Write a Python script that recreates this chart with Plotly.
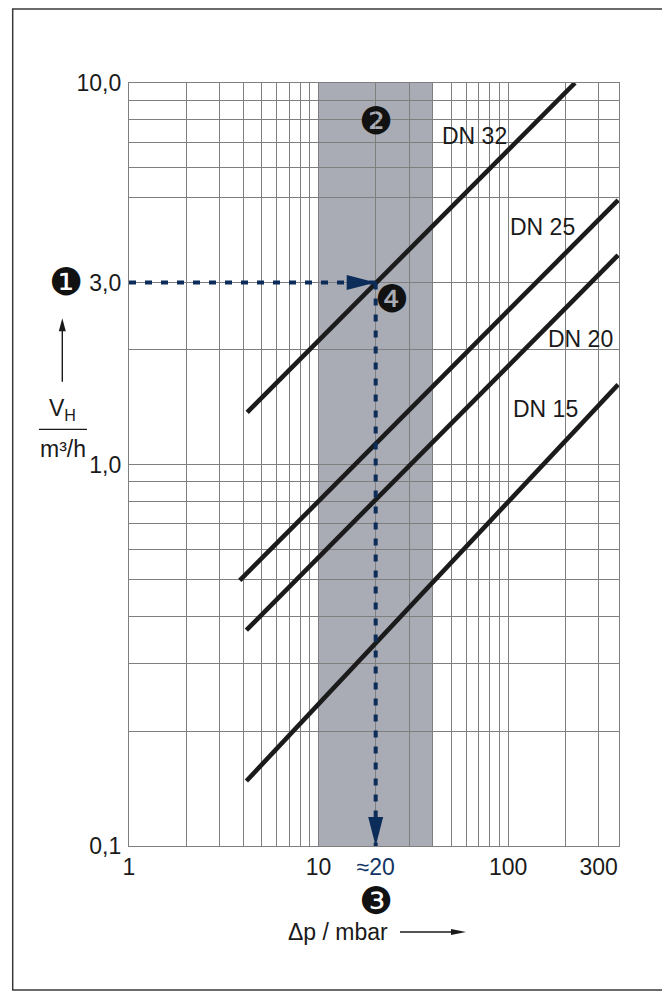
import numpy as np
import plotly.graph_objects as go

# ---------------- data ----------------
x_grid = [1, 2, 3, 4, 5, 6, 7, 8, 9, 10, 20, 30, 40, 50, 60, 70, 80, 90, 100, 200, 300]
x_labels = {1: "1", 10: "10", 20: '<span style="color:#123566">≈20</span>', 100: "100", 300: "300"}
y_grid = [0.1, 0.2, 0.3, 0.4, 0.5, 0.6, 0.7, 0.8, 0.9, 1, 2, 3, 5, 6, 7, 8, 9, 10]
y_labels = {0.1: "0,1", 1: "1,0", 3: "3,0", 10: "10,0"}
x_max = 384

dn_names = ["DN 32", "DN 25", "DN 20", "DN 15"]
dn_dp_start = [4.2, 3.84, 4.16, 4.16]
dn_v_start = [1.37, 0.497, 0.368, 0.148]
dn_dp_end = [225, 380, 380, 380]
dn_v_end = [10.0, 4.93, 3.54, 1.62]
dn_label_dp = [66.8, 152, 241, 158]
dn_label_v = [7.26, 4.20, 2.13, 1.40]

band_dp = [10, 40]
example_dp = 20
example_v = 3.0
x_min, y_min = 1, 0.1

# ---------------- layout helpers ----------------
OFF = 8                      # default page margin of the html body
W, H = 670, 999
L, T = 121, 75
PW, PH = 490, 763
R = W - L - PW
B = H - T - PH
def fx(px): return (px - OFF - L) / PW          # page pixel -> paper x
def fy(py): return (OFF + T + PH - py) / PH     # page pixel -> paper y

NAVY = "#0c2c5a"
GRID = "#7f7f7f"
TXT = "#1a1a1a"
FONT = "Liberation Sans"

fig = go.Figure()

for i in range(len(dn_names)):
    fig.add_trace(go.Scatter(
        x=[dn_dp_start[i], dn_dp_end[i]], y=[dn_v_start[i], dn_v_end[i]],
        mode="lines", line=dict(color="#1b1b1b", width=4.6),
        showlegend=False, hoverinfo="skip"))

# reading lines
fig.add_trace(go.Scatter(x=[x_min, example_dp], y=[example_v, example_v], mode="lines",
                         line=dict(color=NAVY, width=4, dash="7px,9px"),
                         showlegend=False, hoverinfo="skip"))
fig.add_trace(go.Scatter(x=[example_dp, example_dp], y=[example_v, y_min], mode="lines",
                         line=dict(color=NAVY, width=4, dash="7px,9px"),
                         showlegend=False, hoverinfo="skip"))

shapes = []
shapes.append(dict(type="rect", xref="x", yref="paper", x0=band_dp[0], x1=band_dp[1], y0=0, y1=1,
                   fillcolor="#a9acb5", line=dict(width=0), layer="below"))
shapes.append(dict(type="path", xref="x", yref="y", xsizemode="pixel", ysizemode="pixel",
                   xanchor=example_dp, yanchor=example_v,
                   path="M0,0 L-29,7.5 L-29,-7.5 Z", fillcolor=NAVY, line=dict(width=0)))
shapes.append(dict(type="path", xref="x", yref="y", xsizemode="pixel", ysizemode="pixel",
                   xanchor=example_dp, yanchor=y_min,
                   path="M0,0 L-7.5,29 L7.5,29 Z", fillcolor=NAVY, line=dict(width=0)))
# outer frame
shapes.append(dict(type="rect", xref="paper", yref="paper", x0=fx(12.7), x1=fx(665),
                   y0=fy(990), y1=fy(9), line=dict(color="#3a3a3a", width=1.5)))
# y-axis title decorations
shapes.append(dict(type="line", xref="paper", yref="paper", x0=fx(62.3), x1=fx(62.3),
                   y0=fy(381.7), y1=fy(328), line=dict(color=TXT, width=1.4)))
shapes.append(dict(type="path", xref="paper", yref="paper", xsizemode="pixel", ysizemode="pixel",
                   xanchor=fx(62.3), yanchor=fy(318.3),
                   path="M0,0 L-3.5,-13 L3.5,-13 Z", fillcolor=TXT, line=dict(width=0)))
shapes.append(dict(type="line", xref="paper", yref="paper", x0=fx(39), x1=fx(87),
                   y0=fy(429.3), y1=fy(429.3), line=dict(color=TXT, width=1.3)))
# x-axis title arrow
shapes.append(dict(type="line", xref="paper", yref="paper", x0=fx(400), x1=fx(452),
                   y0=fy(932), y1=fy(932), line=dict(color=TXT, width=1.4)))
shapes.append(dict(type="path", xref="paper", yref="paper", xsizemode="pixel", ysizemode="pixel",
                   xanchor=fx(466), yanchor=fy(932),
                   path="M0,0 L-15,3 L-15,-3 Z", fillcolor=TXT, line=dict(width=0)))

ann = []
def add_text(x, y, text, xref, yref, font):
    ann.append(dict(x=x, y=y, xref=xref, yref=yref, text=text, showarrow=False,
                    xanchor="center", yanchor="middle", font=font))

txt_font = dict(family=FONT, size=23, color=TXT)
circ = dict(family="DejaVu Sans", size=38, color="#111111")
for i, nm in enumerate(dn_names):
    add_text(np.log10(dn_label_dp[i]), np.log10(dn_label_v[i]), nm, "x", "y", txt_font)
add_text(np.log10(example_dp), np.log10(7.95), "❷", "x", "y", circ)
add_text(np.log10(24.3), np.log10(2.72), "❹", "x", "y", circ)
add_text(fx(65.7), np.log10(example_v), "❶", "paper", "y", circ)
add_text(np.log10(example_dp), fy(901), "❸", "x", "paper", circ)
add_text(fx(338), fy(932), "Δp / mbar", "paper", "paper", txt_font)
add_text(fx(62), fy(409), "V<sub>H</sub>", "paper", "paper", txt_font)
add_text(fx(62.5), fy(449), "m³/h", "paper", "paper", txt_font)

fig.update_layout(
    width=W, height=H, margin=dict(l=L, r=R, t=T, b=B),
    paper_bgcolor="white", plot_bgcolor="white",
    shapes=shapes, annotations=ann,
    xaxis=dict(type="log", range=[0, np.log10(x_max)], tickmode="array", tickvals=x_grid,
               ticktext=[x_labels.get(v, "") for v in x_grid],
               showgrid=True, gridcolor=GRID, gridwidth=1.4, zeroline=False,
               showline=True, mirror=True, linecolor=GRID, linewidth=1.4, ticks="",
               ticklabelstandoff=0,
               tickfont=dict(family=FONT, size=23, color=TXT)),
    yaxis=dict(type="log", range=[-1, 1], tickmode="array", tickvals=y_grid,
               ticktext=[y_labels.get(v, "") for v in y_grid],
               showgrid=True, gridcolor=GRID, gridwidth=1.4, zeroline=False,
               showline=True, mirror=True, linecolor=GRID, linewidth=1.4, ticks="",
               ticklabelstandoff=2,
               tickfont=dict(family=FONT, size=23, color=TXT)),
)

fig.write_html("out.html")
